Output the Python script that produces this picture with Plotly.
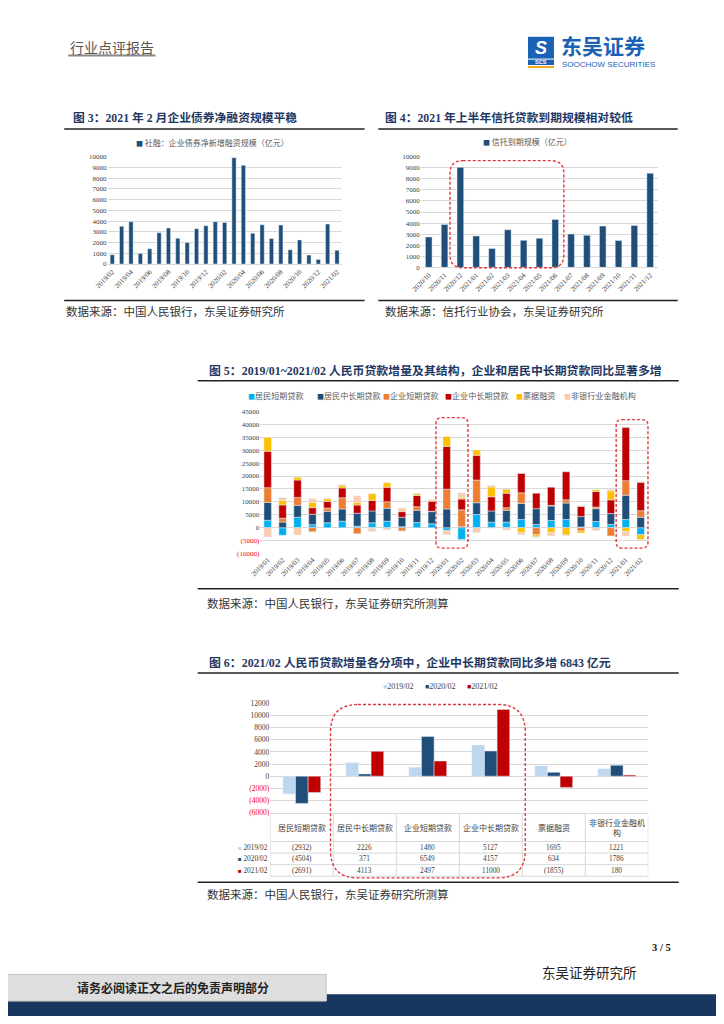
import plotly.graph_objects as go

# page is 724x1024; the browser body keeps its default 8px margin, so the figure is 708x1008
OFF = 8
W, H = 724 - 2 * OFF, 1024 - 2 * OFF


def X(p):
    return (p - OFF) / W


def Y(p):
    return 1 - (p - OFF) / H


# ---------------- data ----------------
# Figure 3: corporate bond net financing (100m yuan)
f3_months = ['2019/02', '2019/03', '2019/04', '2019/05', '2019/06', '2019/07', '2019/08',
             '2019/09', '2019/10', '2019/11', '2019/12', '2020/01', '2020/02', '2020/03',
             '2020/04', '2020/05', '2020/06', '2020/07', '2020/08', '2020/09', '2020/10',
             '2020/11', '2020/12', '2021/01', '2021/02']
f3_values = [860, 3510, 3940, 985, 1415, 2920, 3350, 2400, 2000, 3290, 3570, 3940, 3880, 9910,
             9200, 2860, 3660, 2370, 3630, 1320, 2250, 830, 430, 3720, 1290]
f3_ticks = f3_months[::2]
f3_legend = '社融：企业债券净新增融资规模（亿元）'

# Figure 4: trust maturities (100m yuan)
f4_months = ['2020/10', '2020/11', '2020/12', '2021/01', '2021/02', '2021/03', '2021/04',
             '2021/05', '2021/06', '2021/07', '2021/08', '2021/09', '2021/10', '2021/11', '2021/12']
f4_values = [2750, 3880, 9040, 2840, 1700, 3400, 2450, 2630, 4330, 3010, 2900, 3730, 2420, 3790, 8510]
f4_legend = '信托到期规模（亿元）'

# Figure 5: RMB loan increments and structure
f5_months = ['2019/01', '2019/02', '2019/03', '2019/04', '2019/05', '2019/06', '2019/07',
             '2019/08', '2019/09', '2019/10', '2019/11', '2019/12', '2020/01', '2020/02',
             '2020/03', '2020/04', '2020/05', '2020/06', '2020/07', '2020/08', '2020/09',
             '2020/10', '2020/11', '2020/12', '2021/01', '2021/02']
f5_hh_short = [2900, -2932, 4100, 1150, 1900, 2550, 640, 1910, 2550, 400, 2040, 1530, -1020, -4504,
               5100, 2170, 2170, 3180, 1270, 2800, 3180, 300, 2420, 1270, 3180, -2691]
f5_hh_long = [6900, 2226, 4560, 4070, 4470, 4710, 4960, 4590, 4970, 3680, 4710, 4710, 7260, 371,
              4580, 4330, 4580, 6250, 6120, 5610, 6370, 4030, 4970, 4200, 9430, 4113]
f5_corp_short = [5700, 1480, 3060, -1530, 1270, 4330, -2300, -150, 2540, -1270, 1400, 100, 7640, 6549,
                 8790, -100, 1020, 4080, -2700, 250, 1270, -1270, 640, -3180, 5610, 2497]
f5_corp_long = [14100, 5127, 6750, 2550, 2550, 3830, 3190, 4070, 5610, 2160, 4330, 3950, 16570, 4157,
                9560, 5480, 5610, 7520, 5990, 7010, 10830, 3950, 5990, 5350, 20510, 11000]
f5_bills = [5300, 1695, 1030, 2040, 1020, 1010, 1020, 2550, 1780, -100, 640, 300, 3820, 634,
            2040, 3820, 1530, -1900, -800, -1780, -2800, -760, 640, 3440, -1400, -1855]
f5_nonbank = [-3600, 1221, -2800, 1400, 200, 270, 2550, -1270, -760, 1400, 250, 400, -1680, 1786,
              -1910, 640, -890, -800, -300, -1400, -200, 250, -1020, 640, -1780, 180]
f5_names = ['居民短期贷款', '居民中长期贷款', '企业短期贷款', '企业中长期贷款', '票据融资', '非银行业金融机构']
f5_ticks = [45000, 40000, 35000, 30000, 25000, 20000, 15000, 10000, 5000, 0, -5000, -10000]

# Figure 6: 2021/02 loan components vs previous years
f6_categories = ['居民短期贷款', '居民中长期贷款', '企业短期贷款', '企业中长期贷款', '票据融资', '非银行业金融机<br>构']
f6_series_names = ['2019/02', '2020/02', '2021/02']
f6_2019 = [-2932, 2226, 1480, 5127, 1695, 1221]
f6_2020 = [-4504, 371, 6549, 4157, 634, 1786]
f6_2021 = [-2691, 4113, 2497, 11000, -1855, 180]
f6_ticks = [12000, 10000, 8000, 6000, 4000, 2000, 0, -2000, -4000, -6000]

# ---------------- style ----------------
NAVY = '#1f4e79'
TITLE_C = '#1f3864'
GRID = '#d9d9d9'
CJK = 'Noto Sans CJK SC'
SERIF = 'Liberation Serif'
MIX = 'Liberation Serif, Noto Sans CJK SC'
TICKC = '#404040'
f5_colors = ['#00b0f0', '#1f4e79', '#ed7d31', '#c00000', '#ffc000', '#f8cbad']
f6_colors = ['#bdd7ee', '#1f4e79', '#c00000']


def neg_fmt(v):
    return f'({abs(v)})' if v < 0 else f'{v}'


def tick_text(v):
    if v < 0:
        return f"<span style='color:#ff0000'>({abs(v)})</span>"
    return str(v)


fig = go.Figure()

# Figure 3 bars
fig.add_trace(go.Bar(x=f3_months, y=f3_values, marker_color=NAVY, width=0.45, offset=-0.225,
                     xaxis='x', yaxis='y', showlegend=False))
# Figure 4 bars
fig.add_trace(go.Bar(x=f4_months, y=f4_values, marker_color=NAVY, width=0.42, offset=-0.21,
                     xaxis='x2', yaxis='y2', showlegend=False))

# Figure 5 stacked bars (positive up, negative down, in series order)
f5_series = [f5_hh_short, f5_hh_long, f5_corp_short, f5_corp_long, f5_bills, f5_nonbank]
pos = [0] * len(f5_months)
neg = [0] * len(f5_months)
for name, vals, col in zip(f5_names, f5_series, f5_colors):
    base = []
    for i, v in enumerate(vals):
        if v >= 0:
            base.append(pos[i])
            pos[i] += v
        else:
            base.append(neg[i])
            neg[i] += v
    fig.add_trace(go.Bar(x=f5_months, y=vals, base=base, marker_color=col, width=0.5, offset=-0.25,
                         xaxis='x3', yaxis='y3', name=name, showlegend=False))

# Figure 6 grouped bars
f6_values = [f6_2019, f6_2020, f6_2021]
for i, (nm, vals, col) in enumerate(zip(f6_series_names, f6_values, f6_colors)):
    fig.add_trace(go.Bar(x=f6_categories, y=vals, marker_color=col, width=0.2, offset=-0.3 + 0.2 * i,
                         xaxis='x4', yaxis='y4', name=nm, showlegend=False))

axis_font = dict(family=SERIF, size=7, color=TICKC)

layout = dict(
    width=W, height=H, margin=dict(l=0, r=0, t=0, b=0),
    paper_bgcolor='white', plot_bgcolor='white', barmode='group', showlegend=False,
    font=dict(family=MIX),
    xaxis=dict(domain=[X(96.2), X(334.7)], anchor='y', type='category', tickangle=-45,
               tickmode='array', tickvals=f3_ticks, ticktext=f3_ticks, tickfont=axis_font,
               showgrid=False, showline=True, linecolor=GRID, ticks=''),
    yaxis=dict(domain=[Y(262.3), Y(154)], anchor='x', range=[0, 10000], dtick=1000, tickformat='d',
               tickfont=axis_font, gridcolor=GRID, zeroline=False, ticks=''),
    xaxis2=dict(domain=[X(415.3), X(657)], anchor='y2', type='category', tickangle=-45,
                tickfont=axis_font, showgrid=False, showline=True, linecolor=GRID, ticks=''),
    yaxis2=dict(domain=[Y(265.7), Y(154)], anchor='x2', range=[0, 10000], dtick=1000, tickformat='d',
                tickfont=axis_font, gridcolor=GRID, zeroline=False, ticks=''),
    xaxis3=dict(domain=[X(251.7), X(646.9)], anchor='y3', type='category', tickangle=-45,
                tickfont=axis_font, showgrid=False, showline=False, ticks=''),
    yaxis3=dict(domain=[Y(554.5), Y(411)], anchor='x3', range=[-10000, 45000],
                tickmode='array', tickvals=f5_ticks, ticktext=[tick_text(v) for v in f5_ticks],
                tickfont=axis_font, gridcolor=GRID, zeroline=False, ticks=''),
    xaxis4=dict(domain=[X(262), X(647)], anchor='y4', type='category', showticklabels=False,
                showgrid=False, showline=False, ticks='', range=[-0.5, len(f6_categories) - 0.5]),
    yaxis4=dict(domain=[Y(815.7), Y(705.7)], anchor='x4', range=[-6000, 12000],
                tickmode='array', tickvals=f6_ticks, ticktext=[tick_text(v) for v in f6_ticks],
                tickfont=dict(family=SERIF, size=7.5, color=TICKC), gridcolor=GRID, zeroline=False, ticks=''),
)
fig.update_layout(**layout)

shapes = []
annotations = []


def hline(x0, x1, y, color='#222222', width=1.5):
    shapes.append(dict(type='line', xref='paper', yref='paper', x0=X(x0), x1=X(x1), y0=Y(y), y1=Y(y),
                       line=dict(color=color, width=width)))


def rect(x0, y0, x1, y1, color, line_color=None):
    shapes.append(dict(type='rect', xref='paper', yref='paper', x0=X(x0), x1=X(x1), y0=Y(y1), y1=Y(y0),
                       fillcolor=color, line=dict(width=0 if line_color is None else 1,
                                                  color=line_color or color), layer='below'))


def rrect(x0, y0, x1, y1, r):
    rx, ry = r / W, r / H
    a, b = X(x0), X(x1)
    t, u = Y(y0), Y(y1)
    path = (f"M {a+rx},{t} L {b-rx},{t} Q {b},{t} {b},{t-ry} L {b},{u+ry} Q {b},{u} {b-rx},{u} "
            f"L {a+rx},{u} Q {a},{u} {a},{u+ry} L {a},{t-ry} Q {a},{t} {a+rx},{t} Z")
    shapes.append(dict(type='path', xref='paper', yref='paper', path=path,
                       line=dict(color='#e0393e', width=1.4, dash='3px,2px')))


def text(x, y, s, size, color='#222222', family=MIX, xanchor='left', yanchor='middle', xref='paper'):
    annotations.append(dict(x=X(x) if xref == 'paper' else x, y=Y(y), xref=xref, yref='paper', text=s,
                            showarrow=False, xanchor=xanchor, yanchor=yanchor,
                            font=dict(size=size, color=color, family=family)))


# Header
text(56, 43, '行业点评报告', 14, '#555555', CJK)
hline(56, 145, 52, '#8a8a8a', 2)
rect(524.5, 33, 551, 55, '#1a62b4')
text(537.8, 44, '<b><i>S</i></b>', 18, 'white', 'Liberation Sans', 'center')
rect(524.5, 56, 551, 61.5, '#1a62b4')
text(537.8, 58.8, '<b>SCS</b>', 5.5, 'white', 'Liberation Sans', 'center')
rect(524.5, 62.5, 551, 64.5, '#f5a623')
text(556, 41.5, '<b>东吴证券</b>', 21, '#1a62b4', CJK)
text(557, 60.5, 'SOOCHOW SECURITIES', 8, '#1a62b4', 'Liberation Sans')

# Figure 3
text(59, 115, '<b>图 3：2021 年 2 月企业债券净融资规模平稳</b>', 11.8, TITLE_C)
hline(52, 358, 126)
text(203.5, 140, f"<span style='color:{NAVY};font-size:7px'>■</span> {f3_legend}", 8, '#595959', CJK, 'center')
hline(52, 358, 299)
text(52, 310, '数据来源：中国人民银行，东吴证券研究所', 11.5, '#333333', CJK)

# Figure 4
text(377, 115, '<b>图 4：2021 年上半年信托贷款到期规模相对较低</b>', 11.8, TITLE_C)
hline(372, 677, 126)
text(524, 139, f"<span style='color:{NAVY};font-size:7px'>■</span> {f4_legend}", 8, '#595959', CJK, 'center')
rrect(445, 158, 561, 266, 13)
hline(372, 677, 299)
text(377, 310, '数据来源：信托行业协会，东吴证券研究所', 11.5, '#333333', CJK)

# Figure 5
text(197, 370, '<b>图 5：2019/01~2021/02 人民币贷款增量及其结构，企业和居民中长期贷款同比显著多增</b>', 11.9, TITLE_C)
hline(188, 678, 380)
f5_leg_x = [236.7, 307.3, 374.3, 438.3, 510, 559.3]
for lx, nm, col in zip(f5_leg_x, f5_names, f5_colors):
    text(lx, 395, f"<span style='color:{col};font-size:7px'>■</span>{nm}", 8.1, '#595959', CJK)
rrect(430.7, 417.3, 463.3, 549, 6)
rrect(614.3, 419.3, 646.7, 549, 6)
hline(188, 678, 590)
text(195, 604, '数据来源：中国人民银行，东吴证券研究所测算', 11.5, '#333333', CJK)

# Figure 6
text(197, 665, '<b>图 6：2021/02 人民币贷款增量各分项中，企业中长期贷款同比多增 6843 亿元</b>', 11.9, TITLE_C)
hline(188, 678, 675)
f6_leg_x = [375, 417.7, 460.7]
for lx, nm, col in zip(f6_leg_x, f6_series_names, f6_colors):
    text(lx, 689, f"<span style='color:{col};font-size:7px'>■</span>{nm}", 8, '#404040', SERIF)

# Figure 6 data table (columns follow the category axis x4)
T_TOP, T_HEAD, T_BOT = 816.7, 845.0, 880.0
row_h = (T_BOT - T_HEAD) / len(f6_series_names)
ncat = len(f6_categories)
x_left = -0.5 - (262 - 225) / ((647 - 262) / ncat)   # left edge of the series-name column in x4 units
tl = dict(color=GRID, width=1)
shapes.append(dict(type='line', xref='x4', yref='paper', x0=-0.5, x1=ncat - 0.5, y0=Y(T_TOP), y1=Y(T_TOP), line=tl))
for k in range(len(f6_series_names) + 1):
    yy = T_HEAD + k * row_h
    shapes.append(dict(type='line', xref='x4', yref='paper', x0=x_left, x1=ncat - 0.5, y0=Y(yy), y1=Y(yy), line=tl))
shapes.append(dict(type='line', xref='x4', yref='paper', x0=x_left, x1=x_left, y0=Y(T_HEAD), y1=Y(T_BOT), line=tl))
for j in range(ncat + 1):
    shapes.append(dict(type='line', xref='x4', yref='paper', x0=j - 0.5, x1=j - 0.5, y0=Y(T_TOP), y1=Y(T_BOT), line=tl))
for cat in f6_categories:
    text(cat, (T_TOP + T_HEAD) / 2, cat, 8, '#404040', CJK, 'center', xref='x4')
for k, (nm, vals, col) in enumerate(zip(f6_series_names, f6_values, f6_colors)):
    yy = T_HEAD + (k + 0.5) * row_h
    text(227.5, yy, f"<span style='color:{col};font-size:6px'>■</span> {nm}", 7.3, '#404040', MIX)
    for cat, v in zip(f6_categories, vals):
        text(cat, yy, neg_fmt(v), 7.3, '#404040', SERIF, 'center', xref='x4')

rrect(323.3, 706.7, 521.7, 881.7, 28)
hline(188, 678, 886)
text(195, 898, '数据来源：中国人民银行，东吴证券研究所测算', 11.5, '#333333', CJK)

# Footer
text(672, 952, '<b>3 / 5</b>', 10.5, '#111111', SERIF, 'right')
text(537, 977, '东吴证券研究所', 13.5, '#222222', CJK)
rect(319, 999, 740, 1040, '#17375e')
rect(-10, 1006, 740, 1040, '#17375e')
rect(-10, 979, 319, 1006, '#dedede', '#c8c8c8')
text(163, 992.5, '<b>请务必阅读正文之后的免责声明部分</b>', 12, '#222222', CJK, 'center')

fig.update_layout(shapes=shapes, annotations=annotations)

fig.write_html("out.html", config={'displayModeBar': False})
